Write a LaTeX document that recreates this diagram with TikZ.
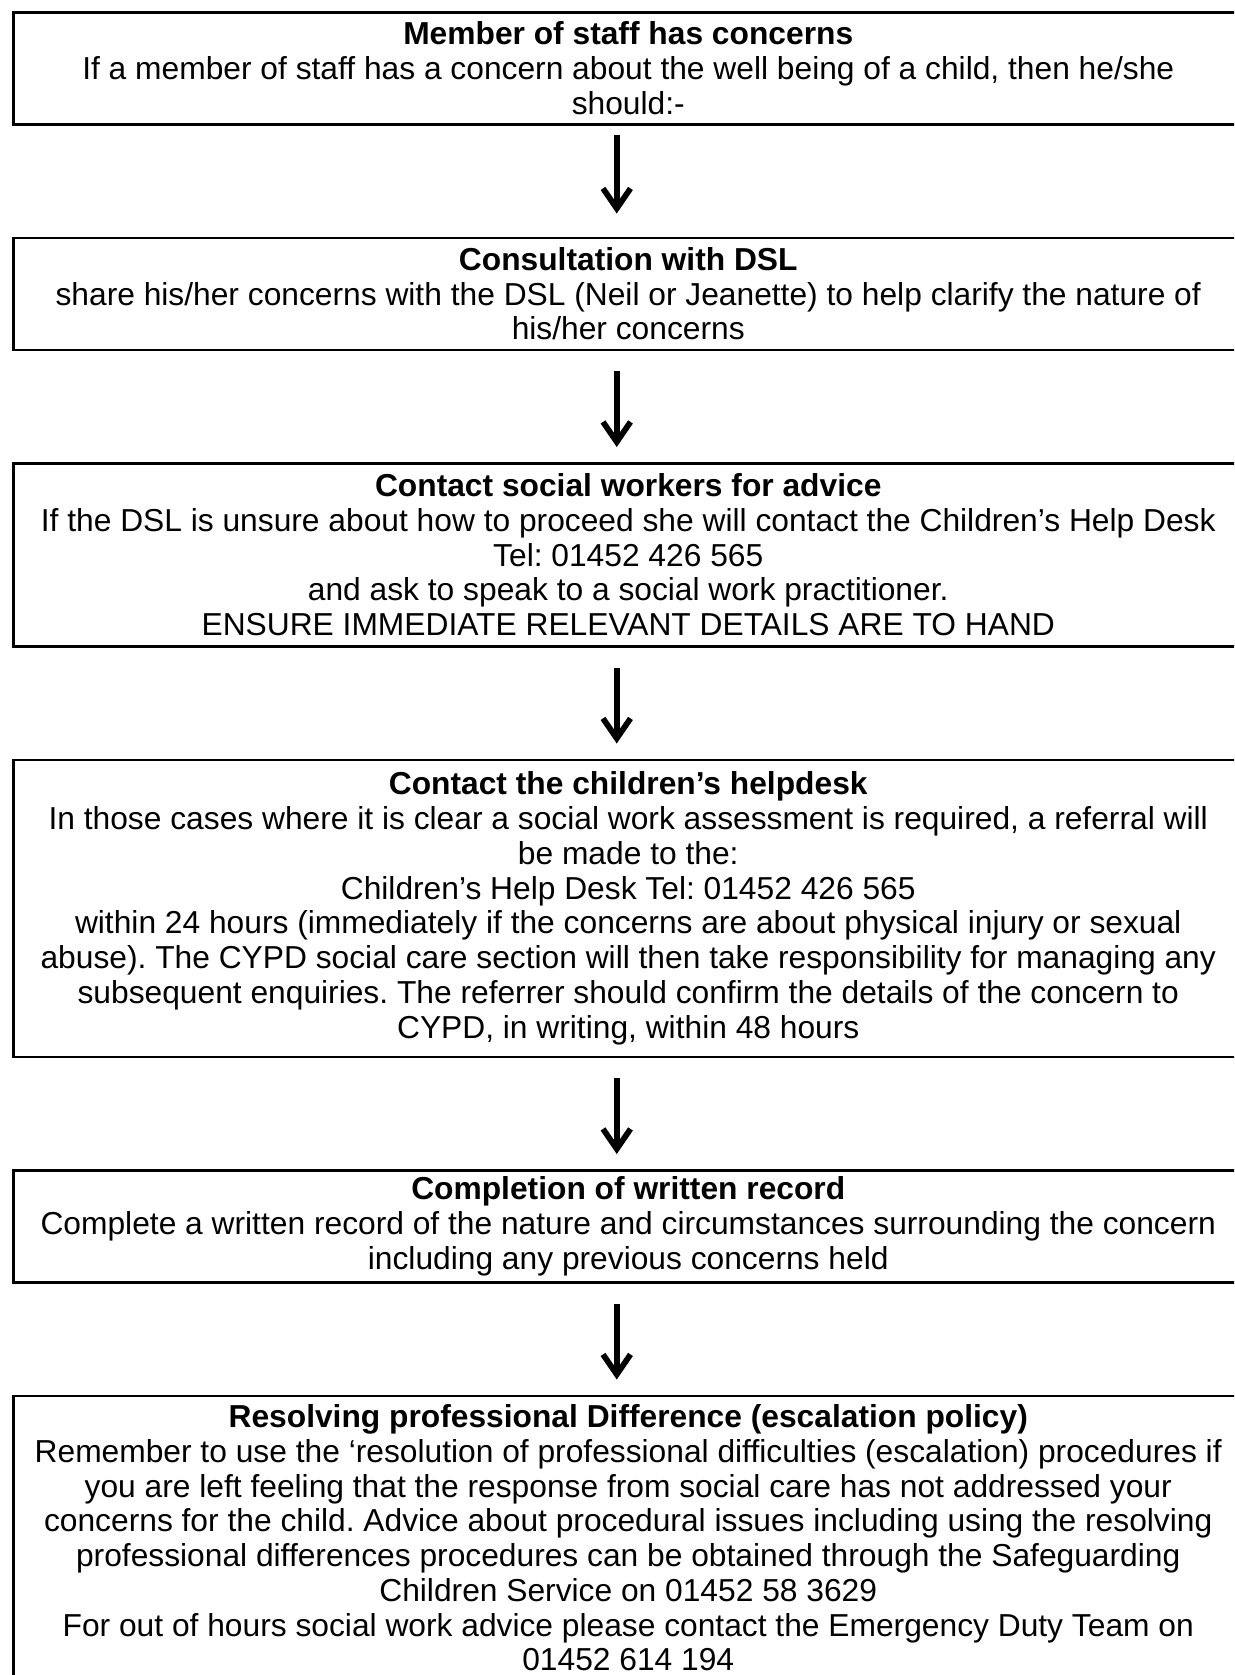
\documentclass[tikz,border=0pt]{standalone}
\usepackage{fontspec}
\setmainfont{Liberation Sans}
\usetikzlibrary{arrows.meta,positioning}
\frenchspacing

\begin{document}
\begin{tikzpicture}[node distance=44.4pt,line width=1pt,
  box/.style={draw,rectangle,align=center,minimum width=492pt,inner xsep=1pt,inner ysep=2pt,
    font=\fontsize{12.7}{13.9}\selectfont},
  flow/.style={->,>={Straight Barb[length=8pt,width=11pt]},line width=2.3pt,shorten <=8pt,shorten >=6pt}]
  \useasboundingbox (0,0) rectangle (493.6pt,-670pt);
  \clip (0,0) rectangle (493.6pt,-670pt);

  \node[box,anchor=north west,minimum height=44.8pt] (staff) at (4.8pt,-4.4pt)
    {\textbf{Member of staff has concerns}\\
     If a member of staff has a concern about the well being of a child, then he/she\\
     should:-};
  \node[box,minimum height=44.8pt] (dsl) [below=of staff]
    {\textbf{Consultation with DSL}\\
     share his/her concerns with the DSL (Neil or Jeanette) to help clarify the nature of\\
     his/her concerns};
  \node[box,minimum height=73.2pt] (advice) [below=of dsl]
    {\textbf{Contact social workers for advice}\\
     If the DSL is unsure about how to proceed she will contact the Children’s Help Desk\\
     Tel: 01452 426 565\\
     and ask to speak to a social work practitioner.\\
     ENSURE IMMEDIATE RELEVANT DETAILS ARE TO HAND};
  \node[box,minimum height=118.8pt] (helpdesk) [below=of advice]
    {\textbf{Contact the children’s helpdesk}\\
     In those cases where it is clear a social work assessment is required, a referral will\\
     be made to the:\\
     Children’s Help Desk Tel: 01452 426 565\\
     within 24 hours (immediately if the concerns are about physical injury or sexual\\
     abuse). The CYPD social care section will then take responsibility for managing any\\
     subsequent enquiries. The referrer should confirm the details of the concern to\\
     CYPD, in writing, within 48 hours};
  \node[box,minimum height=44.8pt] (record) [below=of helpdesk]
    {\textbf{Completion of written record}\\
     Complete a written record of the nature and circumstances surrounding the concern\\
     including any previous concerns held};
  \node[box,inner ysep=3.5pt,text depth=8pt] (escalate) [below=of record]
    {\textbf{Resolving professional Difference (escalation policy)}\\
     Remember to use the ‘resolution of professional difficulties (escalation) procedures if\\
     you are left feeling that the response from social care has not addressed your\\
     concerns for the child. Advice about procedural issues including using the resolving\\
     professional differences procedures can be obtained through the Safeguarding\\
     Children Service on 01452 58 3629\\
     For out of hours social work advice please contact the Emergency Duty Team on\\
     01452 614 194};

  \path ([xshift=-4.6pt]staff.south)    edge [flow,shorten <=3.6pt,shorten >=9.2pt] ([xshift=-4.6pt]dsl.north)
        ([xshift=-4.6pt]dsl.south)      edge [flow] ([xshift=-4.6pt]advice.north)
        ([xshift=-4.6pt]advice.south)   edge [flow] ([xshift=-4.6pt]helpdesk.north)
        ([xshift=-4.6pt]helpdesk.south) edge [flow] ([xshift=-4.6pt]record.north)
        ([xshift=-4.6pt]record.south)   edge [flow] ([xshift=-4.6pt]escalate.north);
\end{tikzpicture}
\end{document}
